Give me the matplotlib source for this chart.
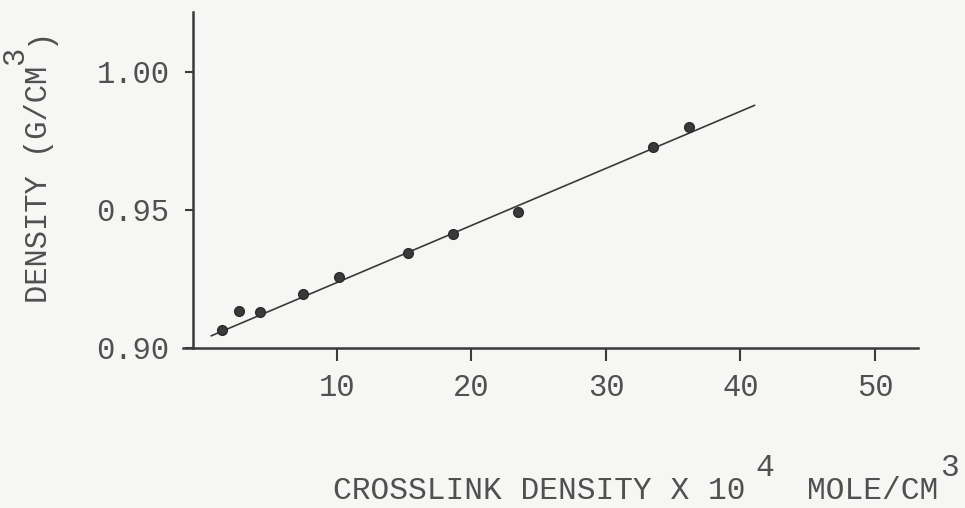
"""Density vs crosslink density, typewriter-style figure."""
import matplotlib
matplotlib.use("Agg")
import matplotlib.pyplot as plt

# ------------------------------------------------------------
# Data
# ------------------------------------------------------------
crosslink = [1.43, 2.74, 4.28, 7.45, 10.17, 15.30, 18.65, 23.43, 33.52, 36.19]
density = [0.9065, 0.9135, 0.9132, 0.9196, 0.9256, 0.9343, 0.9412, 0.9494, 0.9729, 0.9802]

# fitted straight line (end points)
fit_x = [0.6, 41.1]
fit_y = [0.9043, 0.988]

x_ticks = [10, 20, 30, 40, 50]
y_ticks = [0.90, 0.95, 1.00]
y_tick_labels = ["0.90", "0.95", "1.00"]

# ------------------------------------------------------------
# Plot
# ------------------------------------------------------------
INK = "#3a3a3a"
TXT = "#505050"
BG = "#f6f6f4"
FONT = "Liberation Mono"
W, H = 965, 508


def px(x, y):
    # pixel (from top-left) -> figure fraction
    return x / W, (H - y) / H


fig = plt.figure(figsize=(9.65, 5.08), dpi=100, facecolor=BG)
ax = fig.add_axes([183 / W, 1 - 348 / H, 735 / W, 336 / H])
ax.set_facecolor(BG)

ax.plot(fit_x, fit_y, color=INK, linewidth=1.2, solid_capstyle="butt")
ax.plot(crosslink, density, linestyle="none", marker="o", markersize=7,
        color=INK, markeredgecolor="#2a2a2a")

ax.set_xlim(-1.45, 53.2)
ax.set_ylim(0.90, 1.0217)

for side in ("top", "right"):
    ax.spines[side].set_visible(False)
ax.spines["left"].set_position(("data", -0.71))
for side in ("left", "bottom"):
    ax.spines[side].set_color(INK)
    ax.spines[side].set_linewidth(1.8)

ax.set_xticks(x_ticks)
ax.set_xticklabels([str(t) for t in x_ticks])
ax.set_yticks(y_ticks)
ax.set_yticklabels(y_tick_labels)

ax.tick_params(axis="x", direction="out", length=9, width=1.5, color=INK,
               pad=9, labelsize=22, labelcolor=TXT)
ax.tick_params(axis="y", direction="out", length=6, width=1.5, color=INK,
               pad=11, labelsize=22, labelcolor=TXT)
for lab in ax.get_xticklabels() + ax.get_yticklabels():
    lab.set_family(FONT)

# x label: typed on one line, superscripts raised about half a line
xl = dict(family=FONT, fontsize=22.5, color=TXT, ha="left", va="baseline")
fig.text(*px(333, 499), "CROSSLINK DENSITY X 10", **xl)
fig.text(*px(755, 476), "4", **xl)
fig.text(*px(807, 499), "MOLE/CM", **xl)
fig.text(*px(940, 476), "3", **xl)

# y label, rotated, same idea
yl = dict(family=FONT, fontsize=22, color=TXT, ha="left", va="baseline",
          rotation=90, rotation_mode="anchor")
fig.text(*px(47, 303), "DENSITY (G/CM", **yl)
fig.text(*px(23, 65), "3", **yl)
fig.text(*px(47, 46), ")", **yl)

fig.savefig("out.png", dpi=100, facecolor=BG)
